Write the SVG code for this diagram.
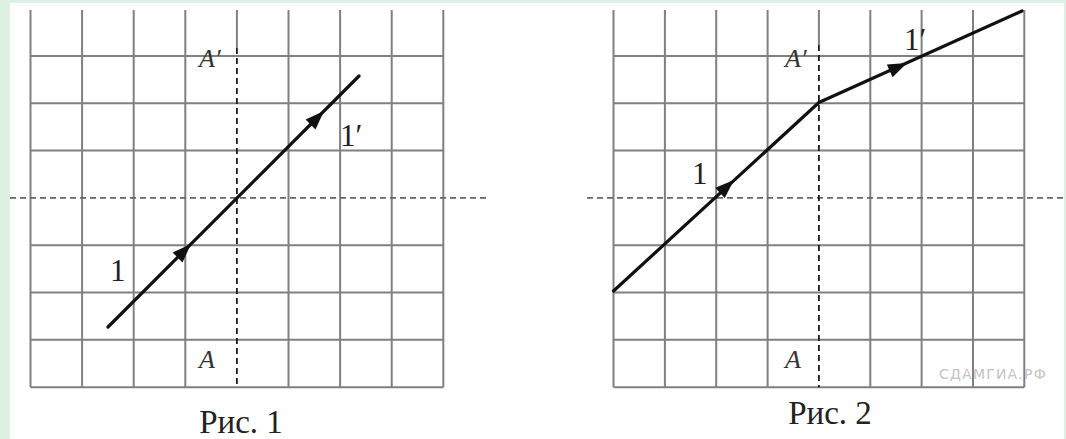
<svg xmlns="http://www.w3.org/2000/svg" xmlns:xlink="http://www.w3.org/1999/xlink" width="1066" height="439" viewBox="0 0 1066 439">
  <style>
    .grid { stroke: #808080; stroke-width: 2; fill: none; }
    .hdash { stroke: #666; stroke-width: 1.6; stroke-dasharray: 6 4; fill: none; }
    .vdash { stroke: #1a1a1a; stroke-width: 1.8; stroke-dasharray: 6 4; fill: none; }
    .ray { stroke: #111; stroke-width: 3.2; fill: none; stroke-linejoin: round; stroke-linecap: round; }
    .lbl { font-family: "Liberation Serif", "Times New Roman", serif; fill: #222; }
    .it { font-style: italic; font-size: 26px; fill: #333; }
    .num { font-size: 31px; }
    .cap { font-size: 33px; fill: #222; }
    .wm { font-family: "DejaVu Sans", "Liberation Sans", sans-serif; font-size: 14px; fill: #c4c4c4; letter-spacing: 1.2px; }
  </style>
  <defs>
    <path id="ah" d="M0,0 L-19,-7 L-19,7 Z" fill="#111"/>
  </defs>
  <rect x="0" y="0" width="1066" height="439" fill="#dcf0e3"/>
  <rect x="10" y="3" width="1054" height="436" fill="#ffffff"/>

  <g id="fig1">
    <g id="fig1-grid">
      <path class="grid" d="M30.5,10V387.3 M82.1,10V387.3 M133.7,10V387.3 M185.3,10V387.3 M236.9,10V48 M288.5,10V387.3 M340.1,10V387.3 M391.7,10V387.3 M443.3,10V387.3"/>
      <path class="grid" d="M30.5,56H443.3 M30.5,103.3H443.3 M30.5,150.6H443.3 M30.5,245.2H443.3 M30.5,292.5H443.3 M30.5,339.8H443.3 M30.5,387.3H443.3"/>
      <path class="hdash" d="M10,197.9H488"/>
      <path class="vdash" d="M236.9,48V387.3"/>
    </g>
    <g id="fig1-labels">
      <text class="lbl it" x="199" y="67">A′</text>
      <text class="lbl it" x="199" y="368">A</text>
      <text class="lbl num" x="110" y="281">1</text>
      <text class="lbl num" x="340" y="146">1′</text>
      <text class="lbl cap" x="241" y="433" text-anchor="middle">Рис. 1</text>
    </g>
  </g>

  <g id="fig2">
    <g id="fig2-grid">
      <path class="grid" d="M613.5,10V387.3 M664.9,10V387.3 M716.2,10V387.3 M767.6,10V387.3 M818.9,10V45 M870.3,10V387.3 M921.6,10V387.3 M973,10V387.3 M1024.3,10V387.3"/>
      <path class="grid" d="M613.5,56H1024.3 M613.5,103.3H1024.3 M613.5,150.6H1024.3 M613.5,245.2H1024.3 M613.5,292.5H1024.3 M613.5,339.8H1024.3 M613.5,387.3H1024.3"/>
      <path class="hdash" d="M587,197.9H1066"/>
      <path class="vdash" d="M818.9,45V387.3"/>
    </g>
    <g id="fig2-labels">
      <text class="lbl it" x="785" y="67">A′</text>
      <text class="lbl it" x="785" y="368">A</text>
      <text class="lbl num" x="692" y="184">1</text>
      <text class="lbl num" x="904" y="50">1′</text>
      <text class="lbl cap" x="830" y="424" text-anchor="middle">Рис. 2</text>
      <text class="wm" x="939" y="379">СДАМГИА.РФ</text>
    </g>
  </g>

  <g id="connectors">
    <path class="ray" d="M108,327 L359,76"/>
    <use xlink:href="#ah" transform="translate(191,244) rotate(-45)"/>
    <use xlink:href="#ah" transform="translate(324,111) rotate(-45)"/>
    <path class="ray" d="M613.5,291 L818.9,102.5 L1022,11"/>
    <use xlink:href="#ah" transform="translate(734,180) rotate(-42.5)"/>
    <use xlink:href="#ah" transform="translate(907,63) rotate(-24.5)"/>
  </g>
</svg>
